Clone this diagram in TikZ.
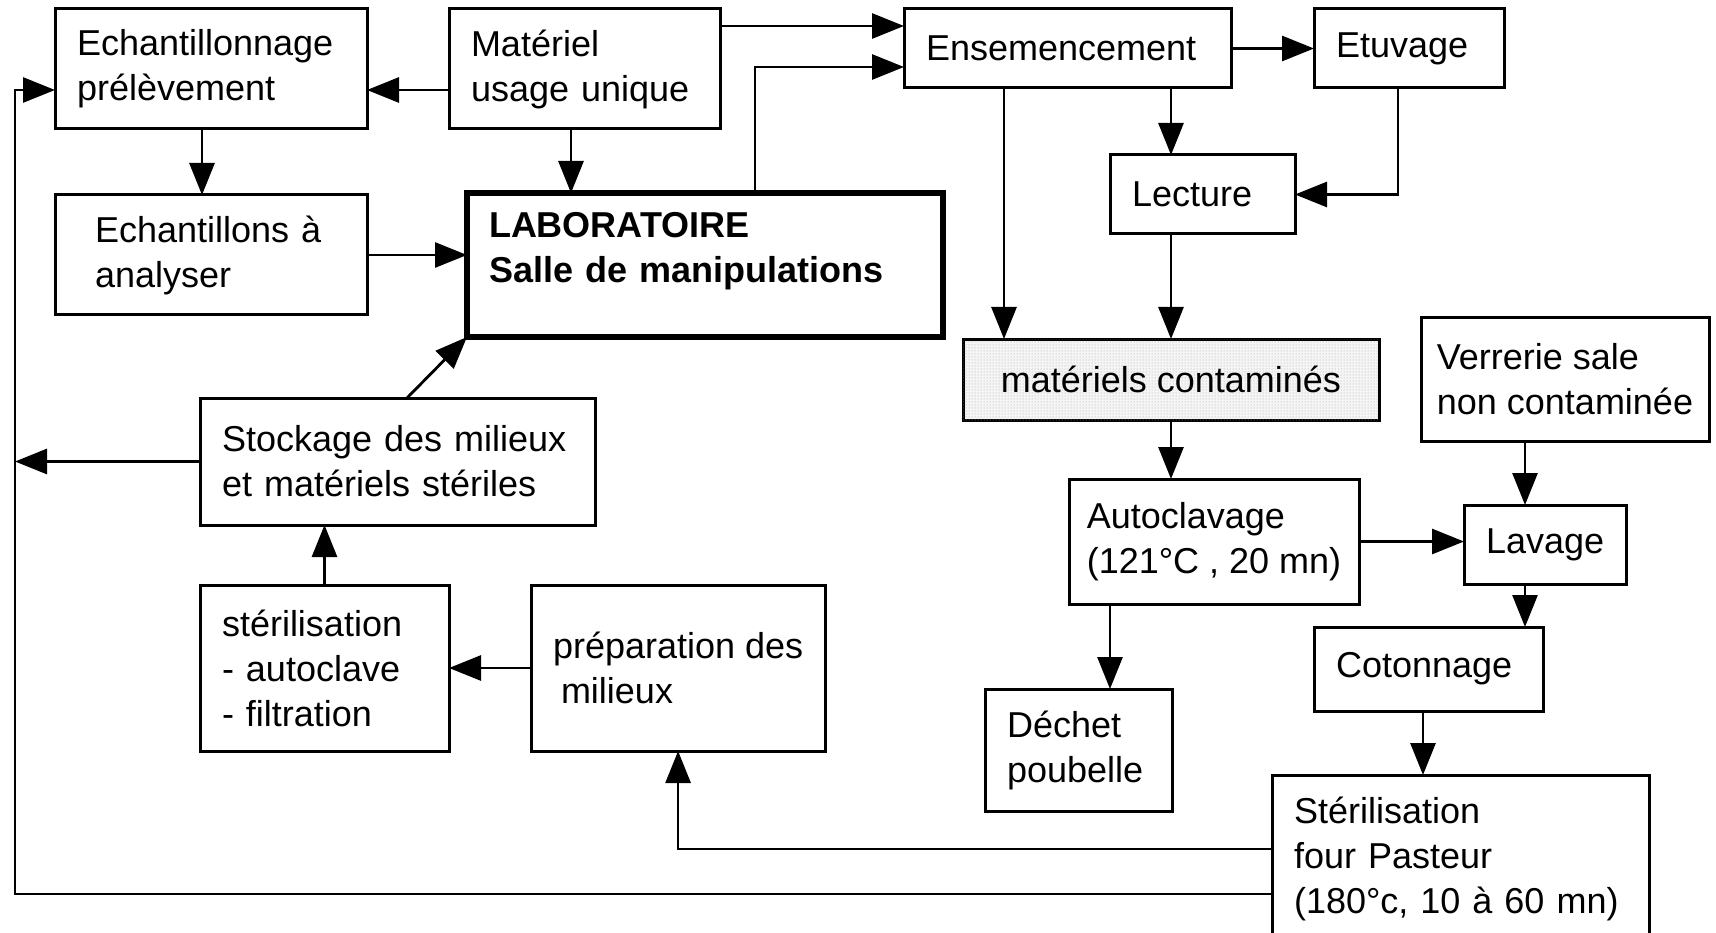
\documentclass[tikz,border=0pt]{standalone}
\usepackage{fontspec}
\setmainfont{Liberation Sans}
\usetikzlibrary{arrows.meta, positioning, patterns}

\begin{document}
\begin{tikzpicture}[x=1pt, y=-1pt,
  font=\fontsize{36}{45}\selectfont,
  box/.style={
    rectangle, draw=black, line width=3pt,
    anchor=north west, align=left, outer sep=0pt,
    inner xsep=22pt, inner ysep=0pt
  },
  labbox/.style={box, line width=5.5pt,
    font=\fontsize{36}{45}\selectfont\bfseries},
  dotbox/.style={box, align=center, fill=gray!8,
    postaction={pattern=dots, pattern color=gray!70}},
  arr/.style={-{Triangle[length=32pt,width=25pt]}, line width=2.8pt}
]
  \useasboundingbox (0,0) rectangle (1716,933);

  % left column
  \node[box, minimum width=312pt, minimum height=120pt, text width=268pt]
    (echan) at (55,9) {Echantillonnage\\prélèvement};
  \node[box, minimum width=312pt, minimum height=120pt, inner xsep=40pt, text width=232pt]
    (ech) at (55,195) {Echantillons à\\analyser};
  \node[box, minimum width=395pt, minimum height=127pt, text width=351pt]
    (stock) at (200,398) {Stockage des milieux\\et matériels stériles};
  \node[box, minimum width=249pt, minimum height=166pt, text width=205pt]
    (steri) at (200,585) {stérilisation\\- autoclave\\- filtration};
  \node[box, minimum width=289pt, minimum height=166pt]
    (prep) at (531,585) {préparation des\\\hspace{8pt}milieux};

  % centre
  \node[box, minimum width=271pt, minimum height=120pt, text width=227pt]
    (mat) at (449,9) {Matériel\\usage unique};
  \node[labbox, minimum width=476pt, minimum height=144pt, text width=432pt]
    (lab) at (467,193) {LABORATOIRE\\Salle de manipulations\\[-10pt]\mbox{}};

  % right side
  \node[box, minimum width=327pt, minimum height=79pt, text width=283pt]
    (ens) at (904,9) {Ensemencement};
  \node[box, minimum width=190pt, minimum height=79pt, text width=146pt]
    (etu) at (1314,9) {Etuvage};
  \node[box, minimum width=185pt, minimum height=79pt, text width=141pt]
    (lec) at (1110,155) {Lecture};
  \node[dotbox, minimum width=416pt, minimum height=81pt]
    (cont) at (963,339) {matériels contaminés};
  \node[box, minimum width=288pt, minimum height=123pt, inner xsep=12pt]
    (verr) at (1421,318) {Verrerie sale\\non contaminée};
  \node[box, minimum width=290pt, minimum height=125pt, inner xsep=12pt]
    (autocl) at (1069,479) {Autoclavage\\(121°C , 20 mn)};
  \node[box, minimum width=160pt, minimum height=79pt]
    (lav) at (1464,505) {Lavage};
  \node[box, minimum width=229pt, minimum height=84pt, text width=185pt]
    (coton) at (1314,627) {Cotonnage};
  \node[box, minimum width=187pt, minimum height=122pt, text width=143pt]
    (dech) at (985,689) {Déchet\\poubelle};
  \node[box, minimum width=377pt, minimum height=168pt, text width=333pt]
    (past) at (1272,775) {Stérilisation\\four Pasteur\\(180°c, 10 à 60 mn)};

  \coordinate (lb) at (15,894);

  % connectors
  \draw[arr] (past.west |- lb) -- (lb) |- (echan.west |- 0,90);
  \draw[arr] (mat.west |- 0,90) -- (echan.east |- 0,90);
  \draw[arr] (echan.south -| 202,0) -- (ech.north -| 202,0);
  \draw[arr] (mat.south -| 571,0) -- (lab.north -| 571,0);
  \draw[arr] (ech.east) -- (lab.west |- ech.east);
  \draw[arr] (mat.east |- 0,26) -- (ens.west |- 0,26);
  \draw[arr] (lab.north -| 755,0) |- (ens.west |- 0,67);
  \draw[arr] (ens.east) -- (etu.west);
  \draw[arr] (ens.south -| 1171,0) -- (lec.north -| 1171,0);
  \draw[arr] (ens.south -| 1004,0) -- (cont.north -| 1004,0);
  \draw[arr] (etu.south -| 1398,0) |- (lec.east);
  \draw[arr] (lec.south -| 1171,0) -- (cont.north -| 1171,0);
  \draw[arr] (cont.south -| 1171,0) -- (autocl.north -| 1171,0);
  \draw[arr] (autocl.east) -- (lav.west |- autocl.east);
  \draw[arr] (autocl.south -| 1110,0) -- (dech.north -| 1110,0);
  \draw[arr] (verr.south -| 1525,0) -- (lav.north -| 1525,0);
  \draw[arr] (lav.south -| 1525,0) -- (coton.north -| 1525,0);
  \draw[arr] (coton.south -| 1423,0) -- (past.north -| 1423,0);
  \draw[arr] (past.west |- 0,849) -| (prep.south);
  \draw[arr] (prep.west) -- (steri.east);
  \draw[arr] (steri.north) -- (stock.south -| steri.north);
  \draw[arr] (stock.west) -- (lb |- stock.west);
  \draw[arr] (stock.north -| 407,0) -- (lab.south west);
\end{tikzpicture}
\end{document}
